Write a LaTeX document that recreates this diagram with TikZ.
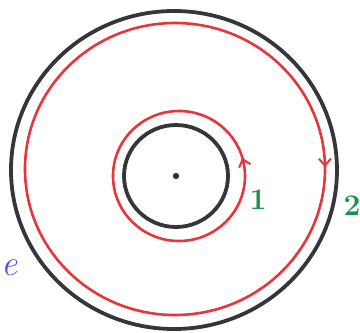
\documentclass[tikz,border=0pt]{standalone}
\usepackage{xcolor}
\usepackage{tikz}
\usetikzlibrary{
  arrows.meta,
  decorations.markings
}
\definecolor{cwBlack}{HTML}{34363C}
\definecolor{cwRed}{HTML}{E8343C}
\definecolor{cwGreen}{HTML}{17934A}
\definecolor{cwBlue}{HTML}{4A52DC}
\tikzset{
  boundary/.style={draw=cwBlack, line width=3.8pt, line cap=round},
  contour/.style={draw=cwRed, line width=2.6pt, line cap=round},
  fwdtip/.style={postaction={decorate, decoration={markings,
      mark=at position #1 with {\arrow[cwRed, line width=2pt]{Straight Barb[length=7pt, width=12pt]}}}}},
  revtip/.style={postaction={decorate, decoration={markings,
      mark=at position #1 with {\arrowreversed[cwRed, line width=2pt]{Straight Barb[length=7pt, width=12pt]}}}}},
  numtag/.style={text=cwGreen, font=\fontsize{30}{30}\selectfont\bfseries},
  regiontag/.style={text=cwBlue, font=\fontsize{36}{36}\selectfont\itshape}
}
\begin{document}
\begin{tikzpicture}[x=1pt, y=-1pt]
  \useasboundingbox (0,0) rectangle (360,333);
  % outer and inner boundary
  \draw[boundary] (174,170) ellipse [x radius=163, y radius=159];
  \draw[boundary] (176,176) ellipse [x radius=52, y radius=51];
  % contours
  \draw[contour, fwdtip=0.998] (175,169) ellipse [x radius=150, y radius=146];
  \draw[contour, revtip=0.955] (179,176) ellipse [x radius=66, y radius=65];
  \fill[cwBlack] (176,176) circle [radius=3.2pt];
  \node[numtag] (one) at (258,200) {1};
  \node[numtag] (two) at (352,206) {2};
  \node[regiontag] (reg) at (10,268) {e};
\end{tikzpicture}
\end{document}
